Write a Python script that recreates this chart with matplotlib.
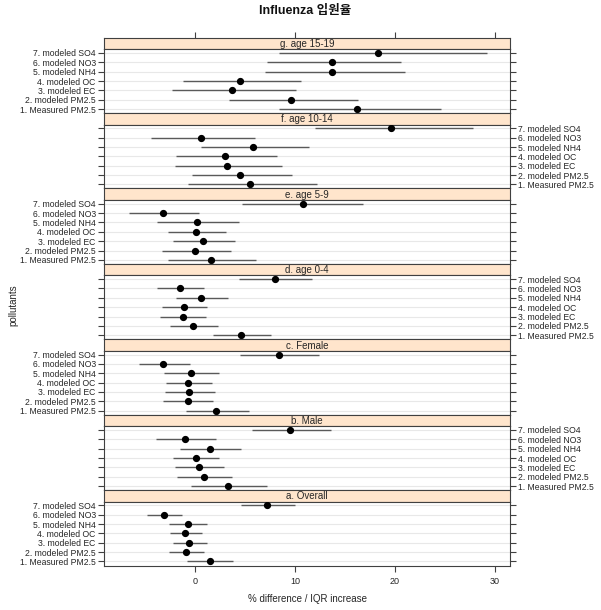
import numpy as np
import matplotlib
matplotlib.use("Agg")
import matplotlib.pyplot as plt

plt.rcParams['font.family'] = ['Liberation Sans', 'Noto Sans CJK KR', 'DejaVu Sans']

pollutants = ["1. Measured PM2.5", "2. modeled PM2.5", "3. modeled EC", "4. modeled OC",
              "5. modeled NH4", "6. modeled NO3", "7. modeled SO4"]

# panels from top to bottom
panels = ["g. age 15-19", "f. age 10-14", "e. age 5-9", "d. age 0-4",
          "c. Female", "b. Male", "a. Overall"]

est_g = [16.17, 9.6, 3.7, 4.53, 13.73, 13.7, 18.33]
lo_g = [8.43, 3.37, -2.27, -1.2, 6.97, 7.23, 8.43]
hi_g = [24.63, 16.3, 10.13, 10.6, 21.03, 20.57, 29.17]

est_f = [5.53, 4.5, 3.17, 3.03, 5.77, 0.6, 19.57]
lo_f = [-0.73, -0.33, -1.97, -1.87, 0.6, -4.43, 11.98]
hi_f = [12.2, 9.73, 8.73, 8.23, 11.37, 5.97, 27.77]

est_e = [1.6, 0.0, 0.83, 0.07, 0.2, -3.17, 10.83]
lo_e = [-2.7, -3.3, -2.2, -2.7, -3.8, -6.6, 4.7]
hi_e = [6.13, 3.6, 3.97, 3.07, 4.43, 0.43, 16.83]

est_d = [4.63, -0.17, -1.2, -1.13, 0.63, -1.53, 7.97]
lo_d = [1.83, -2.53, -3.47, -3.3, -1.9, -3.77, 4.4]
hi_d = [7.57, 2.27, 1.1, 1.17, 3.27, 0.93, 11.67]

est_c = [2.13, -0.73, -0.63, -0.73, -0.43, -3.17, 8.37]
lo_c = [-0.87, -3.2, -3.03, -2.93, -3.07, -5.63, 4.47]
hi_c = [5.4, 1.83, 2.0, 1.67, 2.43, -0.47, 12.37]

est_b = [3.3, 0.87, 0.37, 0.07, 1.47, -0.97, 9.53]
lo_b = [-0.43, -1.8, -2.03, -2.17, -1.47, -3.93, 5.7]
hi_b = [7.17, 3.67, 2.9, 2.37, 4.63, 2.1, 13.6]

est_a = [1.47, -0.9, -0.6, -0.97, -0.7, -3.1, 7.23]
lo_a = [-0.83, -2.6, -2.23, -2.47, -2.6, -4.8, 4.63]
hi_a = [3.83, 0.87, 1.17, 0.67, 1.23, -1.33, 9.97]

ests = [est_g, est_f, est_e, est_d, est_c, est_b, est_a]
los = [lo_g, lo_f, lo_e, lo_d, lo_c, lo_b, lo_a]
his = [hi_g, hi_f, hi_e, hi_d, hi_c, hi_b, hi_a]

xticks = [0, 10, 20, 30]

W, H = 601, 610
fig = plt.figure(figsize=(W / 100, H / 100), dpi=100)

left, right = 104, 510
top, bottom = 37.7, 565.5
strip_h = 11.5
panel_h = (bottom - top) / 7
data_h = panel_h - strip_h
xlim = (-9.1, 31.5)
edge = '#404040'
txt = '#262626'

y = np.arange(1, 8)
for i, name in enumerate(panels):
    y0 = top + i * panel_h
    # strip
    sax = fig.add_axes([left / W, 1 - (y0 + strip_h) / H, (right - left) / W, strip_h / H])
    sax.set_facecolor('#ffe5cc')
    sax.set_xlim(xlim)
    sax.set_yticks([])
    sax.text(0.5, 0.45, name, ha='center', va='center', fontsize=7, color=txt,
             transform=sax.transAxes)
    for s in sax.spines.values():
        s.set_color(edge)
        s.set_linewidth(0.8)
    if i == 0:
        sax.xaxis.tick_top()
        sax.set_xticks(xticks)
        sax.set_xticklabels([])
        sax.tick_params(axis='x', direction='out', length=4, color=edge)
    else:
        sax.set_xticks([])

    # data panel
    ax = fig.add_axes([left / W, 1 - (y0 + panel_h) / H, (right - left) / W, data_h / H])
    ax.set_xlim(xlim)
    ax.set_ylim(0.57, 7.4)
    for yy in y:
        ax.axhline(yy, color='#e8e8e8', lw=0.8, zorder=0)
    ax.hlines(y, los[i], his[i], color='#5a5a5a', lw=1.0, zorder=2)
    ax.plot(ests[i], y, 'o', color='black', ms=4.2, zorder=3)
    ax.set_yticks(y)
    ax.tick_params(axis='y', direction='out', length=4, color=edge, labelsize=6.2,
                   labelcolor=txt, pad=2, left=True, right=True)
    if i % 2 == 0:
        ax.tick_params(axis='y', labelleft=True, labelright=False)
    else:
        ax.tick_params(axis='y', labelleft=False, labelright=True)
    ax.set_yticklabels(pollutants)
    for s in ax.spines.values():
        s.set_color(edge)
        s.set_linewidth(0.8)
    if i == len(panels) - 1:
        ax.set_xticks(xticks)
        ax.tick_params(axis='x', direction='out', length=4, color=edge, labelsize=6.5,
                       labelcolor=txt, pad=4)
        ax.set_xlabel('% difference / IQR increase', fontsize=7, color=txt, labelpad=6)
    else:
        ax.set_xticks([])

fig.text(13 / W, 1 - 305 / H, 'pollutants', rotation=90, ha='center', va='center',
         fontsize=7, color=txt)
fig.text(0.507, 1 - 11 / H, 'Influenza 입원율', ha='center', va='center',
         fontsize=9, fontweight='bold', color='#111111')

fig.savefig('out.png', dpi=100)
